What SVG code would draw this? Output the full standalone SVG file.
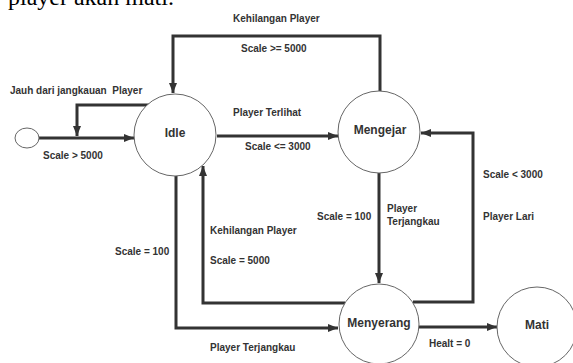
<svg xmlns="http://www.w3.org/2000/svg" width="573" height="363" viewBox="0 0 573 363">
<style>
.node{fill:#fff;stroke:#666;stroke-width:1}
.nl{font-family:"Liberation Sans",Arial,sans-serif;font-size:12px;font-weight:bold;fill:#333;text-anchor:middle}
.lb{font-family:"Liberation Sans",Arial,sans-serif;font-size:10px;font-weight:bold;fill:#333;white-space:pre}
.c{fill:none;stroke:#333;stroke-width:3;marker-end:url(#ah)}
.doc{font-family:"Liberation Serif","Times New Roman",serif;font-size:24px;fill:#000}
</style>
<defs>
<marker id="ah" markerUnits="userSpaceOnUse" markerWidth="10" markerHeight="8" refX="10" refY="4" orient="auto">
<path d="M0,0 L10,4 L0,8 z" fill="#333"/>
</marker>
</defs>
<rect width="573" height="363" fill="#fff"/>
<text class="doc" x="8" y="5">player akan mati.</text>
<g id="connectors">
<path class="c" d="M39,138 L134,138"/>
<path class="c" d="M149,105 L77,105 L77,136"/>
<path class="c" d="M380,91 L380,36 L173,36 L173,93"/>
<path class="c" d="M217,136 L338,136"/>
<path class="c" d="M379,173 L379,283"/>
<path class="c" d="M413,302 L473,302 L473,133 L421,133"/>
<path class="c" d="M176,176 L176,328 L338,328"/>
<path class="c" d="M345,303 L203,303 L203,166"/>
<path class="c" d="M419,327 L497,327"/>
</g>
<g id="start"><ellipse class="node" cx="27" cy="138" rx="12" ry="10" stroke="#333" stroke-width="1.5"/></g>
<g id="idle"><circle class="node" cx="175" cy="135" r="41"/><text class="nl" x="175" y="137">Idle</text></g>
<g id="mengejar"><circle class="node" cx="379" cy="132" r="41"/><text class="nl" x="380" y="134">Mengejar</text></g>
<g id="menyerang"><circle class="node" cx="379" cy="324" r="40"/><text class="nl" x="379" y="327">Menyerang</text></g>
<g id="mati"><circle class="node" cx="537" cy="327" r="40"/><text class="nl" x="537" y="329">Mati</text></g>
<g id="labels">
<text class="lb" x="233" y="21.5">Kehilangan Player</text>
<text class="lb" x="241" y="51.5">Scale &gt;= 5000</text>
<text class="lb" x="10" y="93.5">Jauh dari jangkauan  Player</text>
<text class="lb" x="233" y="115.5">Player Terlihat</text>
<text class="lb" x="43" y="158.5">Scale &gt; 5000</text>
<text class="lb" x="245" y="149.5">Scale &lt;= 3000</text>
<text class="lb" x="483" y="177.5">Scale &lt; 3000</text>
<text class="lb" x="317" y="219.5">Scale = 100</text>
<text class="lb" x="387" y="211.5">Player</text>
<text class="lb" x="387" y="224.5">Terjangkau</text>
<text class="lb" x="483" y="219.5">Player Lari</text>
<text class="lb" x="210" y="233.5">Kehilangan Player</text>
<text class="lb" x="115" y="254.5">Scale = 100</text>
<text class="lb" x="210" y="263.5">Scale = 5000</text>
<text class="lb" x="210" y="350.5">Player Terjangkau</text>
<text class="lb" x="429" y="346.5">Healt = 0</text>
</g>
</svg>
